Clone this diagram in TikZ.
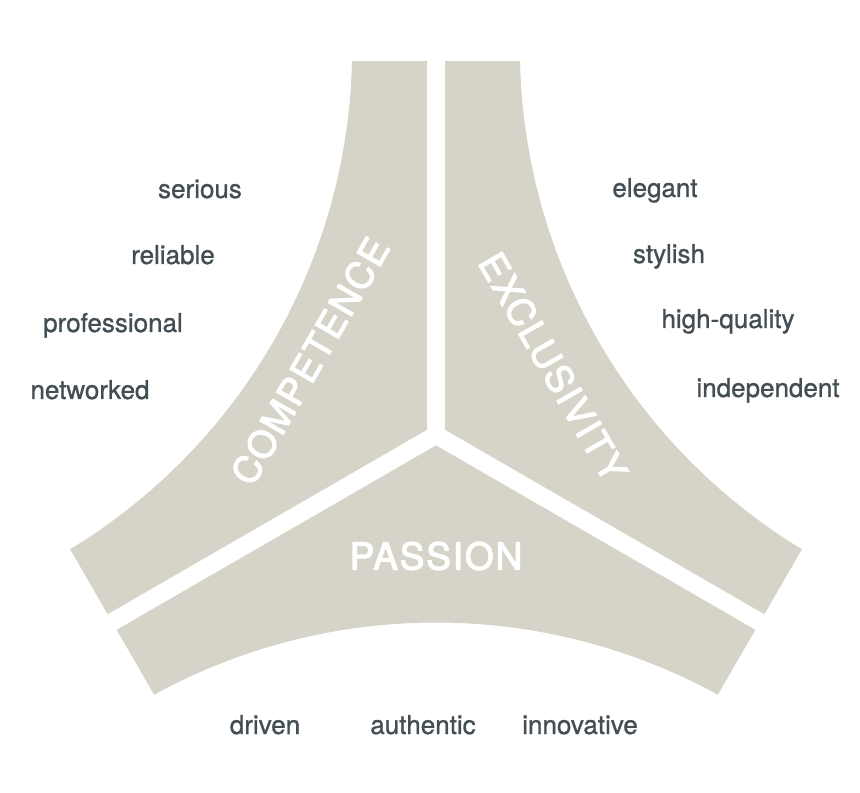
\documentclass[tikz,border=0pt]{standalone}
\usepackage{fontspec}
\setmainfont{TeX Gyre Heros}
\newfontfamily\titlefont[FakeBold=3, LetterSpace=5]{TeX Gyre Heros}
\newfontfamily\wordfont[FakeBold=1]{TeX Gyre Heros}
\definecolor{stone}{RGB}{214,212,200}
\definecolor{slate}{RGB}{66,78,84}
\begin{document}
\begin{tikzpicture}[x=0.5pt,y=0.5pt]
    % Node styles
    \tikzstyle{none}=[inner sep=0mm]
    \tikzstyle{word}=[inner sep=0mm, anchor=base, text=slate, font=\wordfont\fontsize{13}{15}\selectfont]
    \tikzstyle{title}=[inner sep=0mm, text=white, font=\titlefont\fontsize{18.5}{22}\selectfont]
    % Fill styles
    \tikzstyle{piece}=[fill=stone]

    \useasboundingbox (0,0) rectangle (860,792);

    % three pieces of the trefoil
    \fill [style=piece, shift={(436,357)}, rotate=0] (150:10.39) -- (91.38:374.11) -- (102.66:383.32)
        arc [start angle=-1.27, end angle=-58.73, radius=586.4] -- (208.62:374.11) -- cycle;
    \fill [style=piece, shift={(436,357)}, rotate=120] (150:10.39) -- (91.38:374.11) -- (102.66:383.32)
        arc [start angle=-1.27, end angle=-58.73, radius=586.4] -- (208.62:374.11) -- cycle;
    \fill [style=piece, shift={(436,357)}, rotate=240] (150:10.39) -- (91.38:374.11) -- (102.66:383.32)
        arc [start angle=-1.27, end angle=-58.73, radius=586.4] -- (208.62:374.11) -- cycle;

    \node [style=title, rotate=60] (0) at (310, 431) {COMPETENCE};
    \node [style=title, rotate=-60] (1) at (553, 425) {EXCLUSIVITY};
    \node [style=title] (2) at (436, 236) {PASSION};

    \node [style=word] (3) at (200, 594) {serious};
    \node [style=word] (4) at (173, 528) {reliable};
    \node [style=word] (5) at (113, 460) {professional};
    \node [style=word] (6) at (90, 393) {networked};
    \node [style=word] (7) at (655, 595) {elegant};
    \node [style=word] (8) at (669, 529) {stylish};
    \node [style=word] (9) at (728, 464) {high-quality};
    \node [style=word] (10) at (768, 395) {independent};
    \node [style=word] (11) at (265, 58) {driven};
    \node [style=word] (12) at (423, 58) {authentic};
    \node [style=word] (13) at (580, 58) {innovative};
\end{tikzpicture}
\end{document}
